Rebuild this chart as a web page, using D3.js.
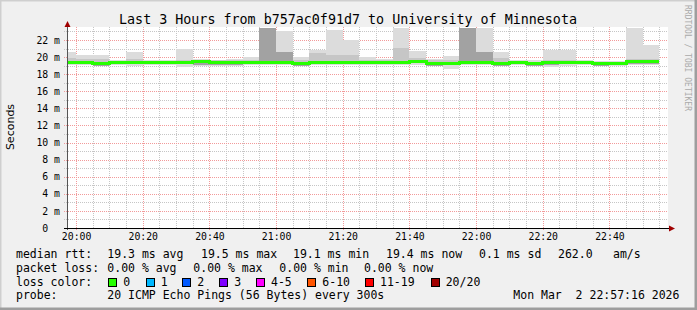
<!DOCTYPE html>
<html>
<head>
<meta charset="utf-8">
<script src="https://cdn.jsdelivr.net/npm/d3@7"></script>
<style>
  html, body { margin: 0; padding: 0; background: #f0f0f0; }
  svg { display: block; font-family: "DejaVu Sans Mono", monospace; }
</style>
</head>
<body>
<div id="chart"></div>
<script>
// smoke data, one value per 5 minute step starting 19:55 (ms)
const rttMax  = [20.54,20.27,20.27,19.68,20.6,19.68,19.68,21.0,19.8,19.7,19.8,19.95,24,23.07,20.0,20.85,23.2,21.94,20.0,19.8,23.4,20.73,19.8,20.07,24,23.4,20.54,19.6,19.6,20.85,20.77,19.68,19.53,19.5,23.4,21.44];
const rttHi   = [19.87,19.76,19.76,19.55,19.76,19.55,19.55,19.7,19.65,19.6,19.6,19.7,24,20.54,19.7,20.46,20.27,20.27,19.7,19.6,21.05,19.9,19.6,19.7,24,20.58,19.9,19.5,19.45,19.7,19.7,19.55,19.45,19.4,19.8,19.8];
const rttCore = [19.45,19.45,19.4,19.45,19.45,19.45,19.4,19.4,19.55,19.45,19.45,19.45,24,20.54,19.3,19.45,19.45,19.45,19.4,19.4,19.45,19.55,19.3,19.4,24,20.58,19.3,19.4,19.3,19.4,19.4,19.45,19.35,19.3,19.5,19.5];
const rttLo   = [19.2,19.2,19.0,19.2,19.15,19.15,19.2,19.15,19.1,19.1,19.1,19.2,19.15,19.15,19.0,19.15,19.2,19.2,19.15,19.15,19.15,19.25,19.0,19.05,19.15,19.15,19.0,19.15,19.0,19.1,19.15,19.2,19.0,19.05,19.2,19.2];
const rttMin  = [19.1,19.1,18.95,19.1,19.0,19.1,19.1,18.8,19.0,19.0,18.9,19.1,19.1,19.1,18.95,19.05,19.05,19.1,19.05,19.1,19.05,19.1,18.95,18.6,19.05,19.05,18.95,19.05,18.95,18.8,19.0,19.1,18.95,19.0,19.05,19.1];
const rttMed  = [19.37,19.37,19.3,19.4,19.4,19.4,19.37,19.37,19.5,19.4,19.4,19.4,19.4,19.35,19.2,19.37,19.4,19.37,19.37,19.37,19.4,19.49,19.27,19.3,19.4,19.37,19.2,19.37,19.25,19.37,19.37,19.4,19.3,19.25,19.45,19.45];

const yMajor = [2,4,6,8,10,12,14,16,18,20,22];
const yMinor = [1,3,5,7,9,11,13,15,17,19,21,23];

const title = "Last 3 Hours from b757ac0f91d7 to University of Minnesota";
const rttStats = ["19.3 ms avg","19.5 ms max","19.1 ms min","19.4 ms now","0.1 ms sd","262.0","am/s"];
const lossStats = ["0.00 % avg","0.00 % max","0.00 % min","0.00 % now"];
const lossLabels = ["0","1","2","3","4-5","6-10","11-19","20/20"];
const lossColors = ["#26ff00","#00b8ff","#0059ff","#7e00ff","#ff00ff","#ff5500","#ff0000","#a10000"];
const probeText = "20 ICMP Echo Pings (56 Bytes) every 300s";
const stamp = "Mon Mar  2 22:57:16 2026";

const W = 697, H = 310;
const pL = 67, pR = 667, pT = 28, pB = 228;
const keep = s => s.replace(/ /g, "\u00a0");

const tStart = new Date(2026, 2, 2, 19, 57, 16);
const tEnd = new Date(2026, 2, 2, 22, 57, 16);
const stepStart = i => new Date(2026, 2, 2, 19, 55 + 5 * i, 0);

const x = d3.scaleTime().domain([tStart, tEnd]).range([pL, pR]);
const y = d3.scaleLinear().domain([0, 23.4]).range([pB, pT]);

const svg = d3.select("#chart").append("svg")
  .attr("width", W).attr("height", H);

svg.append("rect").attr("width", W).attr("height", H).attr("fill", "#f0f0f0");
// 3d border
svg.append("path").attr("d", `M0,${H} V0 H${W}`).attr("fill", "none")
  .attr("stroke", "#cfcfcf").attr("stroke-width", 3);
svg.append("path").attr("d", `M0,${H - 1} H${W - 1} V0`).attr("fill", "none")
  .attr("stroke", "#9e9e9e").attr("stroke-width", 3);

svg.append("rect").attr("x", pL).attr("y", pT - 1)
  .attr("width", pR - pL + 1).attr("height", pB - pT + 1).attr("fill", "#fff");

svg.append("defs").append("clipPath").attr("id", "plot")
  .append("rect").attr("x", pL).attr("y", pT)
  .attr("width", pR - pL).attr("height", pB - pT);

// grid
const grid = svg.append("g").attr("stroke-dasharray", "1,1").attr("shape-rendering", "crispEdges");
const minorT = x.ticks(d3.timeMinute.every(5));
const majorT = x.ticks(d3.timeMinute.every(20));
grid.append("g").selectAll("line").data(yMinor).join("line")
  .attr("x1", pL - 3).attr("x2", pR + 1)
  .attr("y1", d => Math.round(y(d)) + 0.5).attr("y2", d => Math.round(y(d)) + 0.5)
  .attr("stroke", "#c6c6c6");
grid.append("g").selectAll("line").data(minorT).join("line")
  .attr("x1", d => Math.round(x(d)) + 0.5).attr("x2", d => Math.round(x(d)) + 0.5)
  .attr("y1", pT - 1).attr("y2", pB)
  .attr("stroke", "#c6c6c6");
grid.append("g").selectAll("line").data(yMajor).join("line")
  .attr("x1", pL - 3).attr("x2", pR + 1)
  .attr("y1", d => Math.round(y(d)) + 0.5).attr("y2", d => Math.round(y(d)) + 0.5)
  .attr("stroke", "#f29a9a");
grid.append("g").selectAll("line").data(majorT).join("line")
  .attr("x1", d => Math.round(x(d)) + 0.5).attr("x2", d => Math.round(x(d)) + 0.5)
  .attr("y1", pT - 1).attr("y2", pB + 2)
  .attr("stroke", "#f29a9a");

// smoke
const smoke = svg.append("g").attr("clip-path", "url(#plot)").attr("shape-rendering", "crispEdges");
const bars = d3.range(rttMax.length);
const band = (lo, hi, color) => smoke.append("g").selectAll("rect").data(bars).join("rect")
  .attr("x", i => x(stepStart(i)))
  .attr("width", i => x(stepStart(i + 1)) - x(stepStart(i)))
  .attr("y", i => y(hi[i]))
  .attr("height", i => Math.max(0, y(lo[i]) - y(hi[i])))
  .attr("fill", color);
band(rttMin, rttMax, "#dcdcdc");
band(rttLo, rttHi, "#c6c6c6");
band(rttLo, rttCore, "#a2a2a2");

// median
const medPts = bars.map(i => [stepStart(i), rttMed[i]]);
medPts.push([stepStart(bars.length), rttMed[bars.length - 1]]);
svg.append("path").datum(medPts)
  .attr("clip-path", "url(#plot)")
  .attr("fill", "none").attr("stroke", "#26ff00").attr("stroke-width", 3)
  .attr("shape-rendering", "crispEdges")
  .attr("d", d3.line().x(d => x(d[0])).y(d => y(d[1])).curve(d3.curveStepAfter));

// axes
svg.append("line").attr("x1", pL + 0.5).attr("x2", pL + 0.5)
  .attr("y1", pB + 2).attr("y2", pT - 2).attr("stroke", "#555");
svg.append("line").attr("x1", pL - 3).attr("x2", pR + 2)
  .attr("y1", pB + 0.5).attr("y2", pB + 0.5).attr("stroke", "#000");
svg.append("path").attr("d", `M${pL + 0.5},21 L${pL + 3.5},27 L${pL - 2.5},27 Z`).attr("fill", "#a00000");
svg.append("path").attr("d", `M${pR + 8},${pB + 0.5} L${pR + 2},${pB - 2.5} L${pR + 2},${pB + 3.5} Z`).attr("fill", "#a00000");

const yAxis = svg.append("g").attr("transform", `translate(${pL},0)`)
  .call(d3.axisLeft(y).tickValues([0].concat(yMajor)).tickSize(0).tickPadding(7)
    .tickFormat(d => keep(d ? `${d} m` : "0  ")));
const xAxis = svg.append("g").attr("transform", `translate(0,${pB})`)
  .call(d3.axisBottom(x).tickValues(majorT).tickSize(0).tickPadding(5)
    .tickFormat(d3.timeFormat("%H:%M")));
[yAxis, xAxis].forEach(a => {
  a.select(".domain").remove();
  a.selectAll("text").attr("font-family", "DejaVu Sans Mono").attr("font-size", "9.8px")
    .attr("fill", "#000");
});

// title and labels
svg.append("text").attr("x", 348).attr("y", 24).attr("text-anchor", "middle")
  .attr("font-size", "13.35px").attr("fill", "#000").text(title);
svg.append("text").attr("transform", "translate(14,127) rotate(-90)")
  .attr("text-anchor", "middle").attr("font-family", "DejaVu Sans").attr("font-size", "11px")
  .attr("fill", "#000").text("Seconds");
svg.append("text").attr("transform", "translate(685,5) rotate(90)")
  .attr("font-size", "8px").attr("fill", "#aaa").text("RRDTOOL / TOBI OETIKER");

// legend
const leg = svg.append("g").attr("font-size", "11.5px").attr("fill", "#000");
const put = (tx, px, py) => leg.append("text").attr("x", px).attr("y", py).text(keep(tx));
put("median rtt:", 16, 258);
[107.3, 201, 293, 386, 479, 558, 613].forEach((px, i) => put(rttStats[i], px, 258));
put("packet loss:", 16, 271.5);
[107.3, 193.3, 279.3, 364].forEach((px, i) => put(lossStats[i], px, 271.5));
put("loss color:", 16, 285.5);
const boxX = [108.3, 145.7, 182.3, 219.3, 256, 307.3, 365, 430.7];
boxX.forEach((px, i) => {
  leg.append("rect").attr("x", Math.round(px) + 0.5).attr("y", 278.5).attr("width", 8).attr("height", 8)
    .attr("fill", lossColors[i]).attr("stroke", "#000");
  put(lossLabels[i], px + 15, 285.5);
});
put("probe:", 16, 299);
put(probeText, 107.3, 299);
put(stamp, 513.3, 299);
</script>
</body>
</html>
